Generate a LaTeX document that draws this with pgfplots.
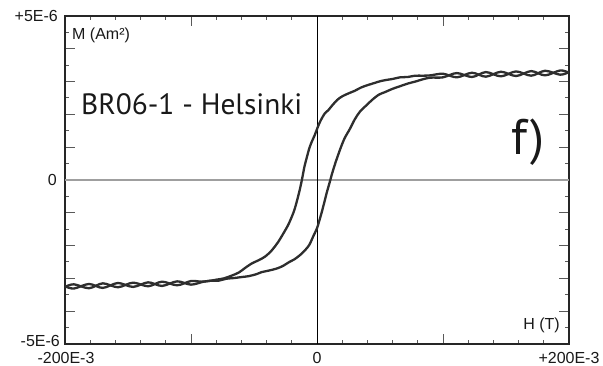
\documentclass[border=0pt]{standalone}
\usepackage{pgfplots}
\pgfplotsset{compat=1.18}
\usepackage{fontspec}
\setmainfont{Liberation Sans}
\newfontfamily\bigfont{PT Sans}
\definecolor{curve}{HTML}{2E2E2E}
\newcommand{\lab}{\fontsize{16}{19}\selectfont}
\begin{document}
\begin{tikzpicture}
\useasboundingbox (-65pt,-22pt) rectangle (538pt,344pt);
\begin{axis}[
  at={(0,0)}, anchor=south west,
  width=504pt, height=328pt, scale only axis,
  xmin=-200, xmax=200, ymin=-5, ymax=5,
  xtick={-200,-100,0,100,200}, ytick={-5,-4,...,5},
  minor x tick num=4, minor y tick num=1,
  major tick length=10pt, minor tick length=4pt,
  tick align=inside,
  xticklabel=\empty, yticklabel=\empty,
  axis line style={line width=1.2pt, black!85},
  tick style={line width=1pt, color=black!65},
  clip=true,
]
\addplot[gray!75, line width=1.6pt] coordinates {(-200,0) (200,0)};
\addplot[black, line width=0.8pt] coordinates {(0,-5) (0,5)};
% upper branch (descending field)
\addplot[curve, line width=2.3pt, line join=round, smooth, tension=0.5] coordinates {
(200,3.27) (193,3.34) (181,3.19) (170,3.32) (158,3.17) (146,3.30) (134,3.15)
(123,3.27) (111,3.13) (100,3.24) (90,3.19) (84,3.18)
(78,3.18) (72,3.14) (66,3.13) (60,3.08) (55,3.05) (50,3.01) (45,2.95)
(40,2.89) (35,2.82) (30,2.72) (25,2.64) (20,2.55) (16,2.44) (12,2.27)
(9,2.13) (6,2.02) (3,1.82) (1,1.65) (0,1.55) (-2,1.35) (-4,1.18) (-6,0.98)
(-8,0.70) (-10,0.40) (-12,0.00) (-14,-0.35) (-16,-0.65) (-18,-0.92)
(-20,-1.12) (-23,-1.38) (-27,-1.65) (-31,-1.90) (-36,-2.15) (-41,-2.33)
(-46,-2.44) (-52,-2.55) (-57,-2.68) (-62,-2.82) (-68,-2.92) (-74,-3.00)
(-80,-3.04) (-86,-3.08) (-92,-3.10) (-100,-3.08) (-111,-3.21)
(-123,-3.10) (-134,-3.24) (-146,-3.13) (-158,-3.27) (-170,-3.15) (-181,-3.30)
(-193,-3.18) (-200,-3.26)
};
% lower branch (ascending field)
\addplot[curve, line width=2.3pt, line join=round, smooth, tension=0.5] coordinates {
(-200,-3.24) (-193,-3.31) (-181,-3.17) (-170,-3.29) (-158,-3.14) (-146,-3.26)
(-134,-3.12) (-123,-3.23) (-111,-3.09) (-100,-3.19)
(-90,-3.10) (-84,-3.07) (-78,-3.07) (-72,-3.01) (-66,-2.99)
(-60,-2.96) (-54,-2.93) (-48,-2.87) (-44,-2.81) (-38,-2.76) (-32,-2.70)
(-27,-2.62) (-22,-2.50) (-18,-2.42) (-13.5,-2.29) (-9,-2.12) (-6,-1.97)
(-3,-1.72) (0,-1.47) (2,-1.22) (4,-0.95) (6,-0.65) (8,-0.35) (10,-0.08)
(12,0.20) (14,0.45) (16,0.68) (19,1.00) (22,1.28) (26,1.55) (30,1.85)
(34,2.08) (39,2.27) (44,2.45) (49,2.60) (54,2.68) (60,2.78) (66,2.86)
(72,2.94) (78,3.00) (84,3.07) (90,3.12) (100,3.13) (111,3.26)
(123,3.14) (134,3.29) (146,3.16) (158,3.31) (170,3.18) (181,3.33) (193,3.21)
(200,3.29)
};
\end{axis}
% labels (axis south west is at the origin; 1pt = 1px)
\begin{scope}[every node/.style={inner sep=0pt, font=\lab, text=black!90}]
\node[anchor=east] at (-7pt,328pt) {+5E-6};
\node[anchor=east] at (-8pt,164pt) {0};
\node[anchor=east] at (-5pt,3pt) {-5E-6};
\node[anchor=north] at (1pt,-8pt) {-200E-3};
\node[anchor=north] at (252pt,-8pt) {0};
\node[anchor=north] at (504pt,-8pt) {+200E-3};
\node[anchor=north west] at (7pt,316pt) {M (Am²)};
\node[anchor=base east] at (495pt,14pt) {H (T)};
\node[anchor=base west, font=\bigfont\fontsize{29.4}{34}\selectfont] at (16pt,229pt) {BR06-1 - Helsinki};
\node[anchor=base west, font=\bigfont\fontsize{50}{58}\selectfont] at (446pt,189pt) {f)};
\end{scope}
\end{tikzpicture}
\end{document}
